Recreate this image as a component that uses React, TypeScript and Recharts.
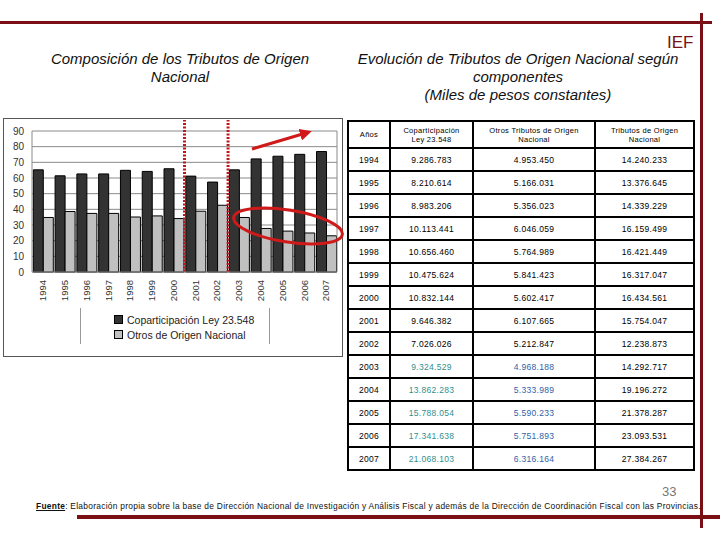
import React from "react";
import { BarChart, Bar, XAxis, YAxis, CartesianGrid, Legend, ReferenceLine } from "recharts";

// participación (%) en los tributos de origen nacional
const years = ["1994", "1995", "1996", "1997", "1998", "1999", "2000", "2001", "2002", "2003", "2004", "2005", "2006", "2007"];
const coparticipacionPct = [65.2, 61.4, 62.6, 62.6, 64.9, 64.2, 65.9, 61.2, 57.4, 65.2, 72.2, 73.9, 75.1, 76.9];
const otrosPct = [34.8, 38.6, 37.4, 37.4, 35.1, 35.8, 34.1, 38.8, 42.6, 34.8, 27.8, 26.1, 24.9, 23.1];
const yTicks = [0, 10, 20, 30, 40, 50, 60, 70, 80, 90];

// tabla, miles de pesos constantes
const coparticipacionMiles = [9286783, 8210614, 8983206, 10113441, 10656460, 10475624, 10832144, 9646382, 7026026, 9324529, 13862283, 15788054, 17341638, 21068103];
const otrosMiles = [4953450, 5166031, 5356023, 6046059, 5764989, 5841423, 5602417, 6107665, 5212847, 4968188, 5333989, 5590233, 5751893, 6316164];
const totalMiles = [14240233, 13376645, 14339229, 16159499, 16421449, 16317047, 16434561, 15754047, 12238873, 14292717, 19196272, 21378287, 23093531, 27384267];
const highlightFrom = "2003";

const MAROON = "#7a1015";
const FONT = "'Liberation Sans', Arial, sans-serif";

const chartData = years.map((y, i) => ({
  year: y,
  copart: coparticipacionPct[i],
  otros: otrosPct[i],
}));

const fmt = (n: number) => String(n).replace(/\B(?=(\d{3})+(?!\d))/g, ".");

function YearTick({ x, y, payload }: any) {
  return (
    <text
      x={x}
      y={y}
      dy="0.35em"
      transform={`rotate(-90 ${x} ${y})`}
      textAnchor="end"
      fontSize={9.5}
      fill="#333"
      fontFamily={FONT}
    >
      {payload.value}
    </text>
  );
}

const renderLegend = () => (
  <div
    style={{
      marginLeft: 76,
      width: 190,
      height: 36,
      borderLeft: "1px solid #999",
      borderRight: "1px solid #999",
      fontFamily: FONT,
      fontSize: 10.5,
      color: "#222",
      paddingLeft: 33,
      boxSizing: "border-box",
      paddingTop: 4,
    }}
  >
    {[
      ["#333333", "Coparticipación Ley 23.548"],
      ["#c0c0c0", "Otros de Origen Nacional"],
    ].map(([c, l]) => (
      <div key={l} style={{ display: "flex", alignItems: "center", height: 15 }}>
        <span style={{ width: 7, height: 7, background: c, border: "1px solid #000", marginRight: 4 }} />
        {l}
      </div>
    ))}
  </div>
);

function Table() {
  const cell: React.CSSProperties = {
    border: "2px solid #000",
    textAlign: "center",
    padding: 0,
    height: 21,
    fontSize: 8.5,
    letterSpacing: 0.3,
  };
  let hl = false;
  return (
    <table
      style={{
        position: "absolute",
        left: 347,
        top: 120,
        width: 346,
        borderCollapse: "collapse",
        fontFamily: FONT,
        tableLayout: "fixed",
        background: "#fff",
      }}
    >
      <colgroup>
        <col style={{ width: 42 }} />
        <col style={{ width: 83 }} />
        <col style={{ width: 122 }} />
        <col style={{ width: 99 }} />
      </colgroup>
      <thead>
        <tr>
          <th style={{ ...cell, height: 25, fontWeight: "normal", fontSize: 7.5 }}>Años</th>
          <th style={{ ...cell, height: 25, fontWeight: "normal", fontSize: 7.5 }}>Coparticipación<br />Ley 23.548</th>
          <th style={{ ...cell, height: 25, fontWeight: "normal", fontSize: 7.5 }}>Otros Tributos de Origen<br />Nacional</th>
          <th style={{ ...cell, height: 25, fontWeight: "normal", fontSize: 7.5 }}>Tributos de Origen<br />Nacional</th>
        </tr>
      </thead>
      <tbody>
        {years.map((y, i) => {
          if (y === highlightFrom) hl = true;
          return (
            <tr key={y}>
              <td style={cell}>{y}</td>
              <td style={{ ...cell, color: hl ? "#2f8f8f" : "#000" }}>{fmt(coparticipacionMiles[i])}</td>
              <td style={{ ...cell, color: hl ? "#2e62a8" : "#000" }}>{fmt(otrosMiles[i])}</td>
              <td style={cell}>{fmt(totalMiles[i])}</td>
            </tr>
          );
        })}
      </tbody>
    </table>
  );
}

export default function App() {
  const title: React.CSSProperties = {
    position: "absolute",
    fontFamily: FONT,
    fontStyle: "italic",
    fontSize: 15,
    lineHeight: "18px",
    textAlign: "center",
    color: "#111",
  };
  return (
    <div style={{ position: "absolute", left: 0, top: 0, width: 720, height: 540, background: "#fff", overflow: "hidden" }}>
      {/* marco */}
      <div style={{ position: "absolute", left: 0, top: 21, width: 712, height: 3, background: MAROON }} />
      <div style={{ position: "absolute", left: 700, top: 13, width: 3, height: 515, background: MAROON }} />
      <div style={{ position: "absolute", left: 77, top: 515, width: 643, height: 4, background: MAROON }} />

      <div style={{ position: "absolute", left: 667, top: 33, fontFamily: FONT, fontSize: 17, color: MAROON }}>IEF</div>

      <div style={{ ...title, left: 20, top: 50, width: 320 }}>
        Composición de los Tributos de Origen<br />Nacional
      </div>
      <div style={{ ...title, left: 338, top: 50, width: 360 }}>
        Evolución de Tributos de Origen Nacional según<br />componentes<br />(Miles de pesos constantes)
      </div>

      {/* gráfico */}
      <div style={{ position: "absolute", left: 3, top: 118, width: 340, height: 239, border: "1px solid #555", boxSizing: "border-box" }}>
        <BarChart
          width={338}
          height={237}
          data={chartData}
          margin={{ top: 12, right: 5, left: 0, bottom: 12 }}
          barCategoryGap="6%"
          barGap={0}
        >
          <CartesianGrid vertical={false} stroke="#8a8a8a" />
          <XAxis
            dataKey="year"
            height={36}
            interval={0}
            tick={<YearTick />}
            tickLine={false}
            stroke="#8a8a8a"
          />
          <YAxis
            width={28}
            domain={[0, 90]}
            ticks={yTicks}
            interval={0}
            tickLine={false}
            stroke="#8a8a8a"
            tick={{ fontSize: 10, fill: "#333", fontFamily: FONT }}
          />
          <Bar dataKey="copart" name="Coparticipación Ley 23.548" fill="#333333" stroke="#000" strokeWidth={1} isAnimationActive={false} />
          <Bar dataKey="otros" name="Otros de Origen Nacional" fill="#c0c0c0" stroke="#000" strokeWidth={1} isAnimationActive={false} />
          <ReferenceLine x="2007" position="end" stroke="#8a8a8a" />
          <ReferenceLine
            segment={[{ x: "2001", y: 0 }, { x: "2001", y: 97 }]}
            position="start"
            ifOverflow="visible"
            stroke="#c0151a"
            strokeWidth={3}
            strokeDasharray="2 1.5"
          />
          <ReferenceLine
            segment={[{ x: "2003", y: 0 }, { x: "2003", y: 97 }]}
            position="start"
            ifOverflow="visible"
            stroke="#c0151a"
            strokeWidth={3}
            strokeDasharray="2 1.5"
          />
          <Legend verticalAlign="bottom" content={renderLegend} wrapperStyle={{ left: 0, width: 338 }} />
        </BarChart>
      </div>

      {/* anotaciones */}
      <svg width={720} height={540} style={{ position: "absolute", left: 0, top: 0, pointerEvents: "none" }}>
        <defs>
          <marker id="ah" markerWidth="4" markerHeight="4" refX="2" refY="2" orient="auto">
            <path d="M0,0 L4,2 L0,4 z" fill="#d01a1a" />
          </marker>
        </defs>
        <line x1={252} y1={149} x2={306} y2={133} stroke="#d01a1a" strokeWidth={3} markerEnd="url(#ah)" />
        <ellipse cx={288} cy={226} rx={55} ry={16} transform="rotate(9 288 226)" fill="none" stroke="#d01a1a" strokeWidth={3} />
      </svg>

      <Table />

      <div style={{ position: "absolute", left: 662, top: 484, fontFamily: FONT, fontSize: 13, lineHeight: "15px", color: "#777" }}>33</div>
      <div style={{ position: "absolute", left: 36, top: 501, fontFamily: FONT, fontSize: 8.4, letterSpacing: 0.28, color: "#111", whiteSpace: "nowrap" }}>
        <b style={{ textDecoration: "underline" }}>Fuente</b>: Elaboración propia sobre la base de Dirección Nacional de Investigación y Análisis Fiscal y además de la Dirección de Coordinación Fiscal con las Provincias.
      </div>
    </div>
  );
}
